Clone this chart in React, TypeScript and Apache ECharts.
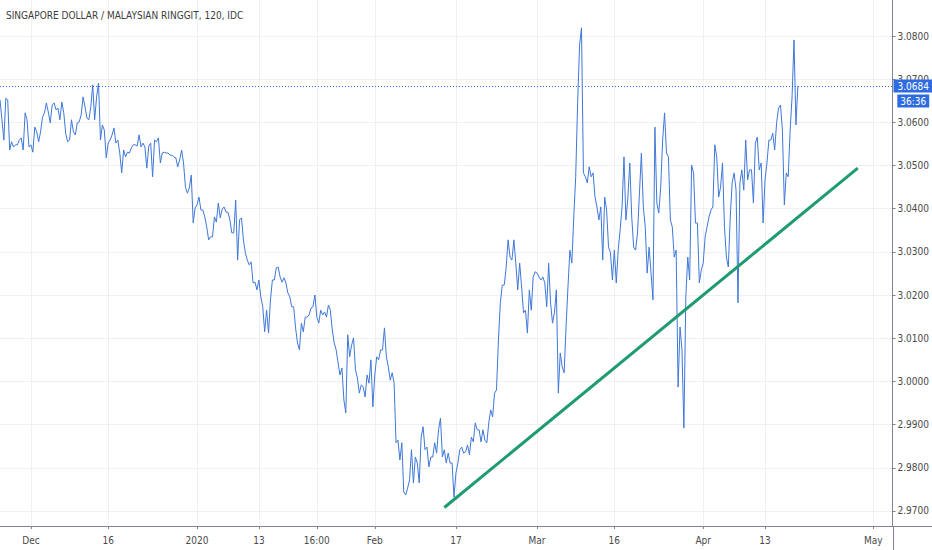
import { useEffect, useRef } from "react";
import * as echarts from "echarts";

const chartTitle = "SINGAPORE DOLLAR / MALAYSIAN RINGGIT, 120, IDC";
// category slots along the time axis (each slot ≈ a quarter of a trading day)
const slotCount = 463;
const tickIndex = [16, 56, 102, 134, 164, 194, 236, 278, 318, 364, 396, 452];
const tickLabels = ["Dec", "16", "2020", "13", "16:00", "Feb", "17", "Mar", "16", "Apr", "13", "May"];

const prices = [
  3.0652, 3.0606, 3.0559, 3.0656, 3.0652, 3.0536, 3.0555, 3.0543, 3.0548, 3.0548,
  3.0559, 3.0564, 3.0536, 3.0622, 3.0606, 3.0543, 3.0548, 3.0531, 3.0589, 3.0578,
  3.0555, 3.0578, 3.0612, 3.0622, 3.0645, 3.0624, 3.0599, 3.0640, 3.0645, 3.0629,
  3.0633, 3.0606, 3.0647, 3.0622, 3.0575, 3.0555, 3.0559, 3.0606, 3.0578, 3.0571,
  3.0599, 3.0601, 3.0617, 3.0659, 3.0636, 3.0610, 3.0606, 3.0636, 3.0687, 3.0606,
  3.0659, 3.0691, 3.0559, 3.0594, 3.0582, 3.0518, 3.0552, 3.0559, 3.0571, 3.0587,
  3.0552, 3.0559, 3.0529, 3.0483, 3.0536, 3.0520, 3.0531, 3.0529, 3.0541, 3.0548,
  3.0548, 3.0545, 3.0571, 3.0543, 3.0552, 3.0543, 3.0494, 3.0545, 3.0552, 3.0474,
  3.0559, 3.0555, 3.0564, 3.0506, 3.0529, 3.0531, 3.0529, 3.0529, 3.0524, 3.0524,
  3.0520, 3.0518, 3.0497, 3.0513, 3.0536, 3.0506, 3.0450, 3.0436, 3.0448, 3.0478,
  3.0367, 3.0402, 3.0409, 3.0427, 3.0397, 3.0397, 3.0381, 3.0358, 3.0328, 3.0335,
  3.0335, 3.0381, 3.0369, 3.0413, 3.0379, 3.0399, 3.0404, 3.0392, 3.0392, 3.0374,
  3.0344, 3.0344, 3.0420, 3.0281, 3.0374, 3.0379, 3.0328, 3.0298, 3.0281, 3.0270,
  3.0277, 3.0228, 3.0230, 3.0212, 3.0235, 3.0196, 3.0173, 3.0115, 3.0165, 3.0112,
  3.0189, 3.0235, 3.0235, 3.0263, 3.0265, 3.0242, 3.0230, 3.0240, 3.0228, 3.0205,
  3.0196, 3.0173, 3.0173, 3.0124, 3.0089, 3.0073, 3.0135, 3.0115, 3.0149, 3.0149,
  3.0154, 3.0170, 3.0173, 3.0200, 3.0149, 3.0135, 3.0165, 3.0154, 3.0161, 3.0149,
  3.0177, 3.0165, 3.0119, 3.0089, 3.0073, 3.0043, 3.0015, 3.0031, 2.9957, 2.9927,
  3.0108, 3.0057, 3.0084, 3.0101, 3.0027, 3.0008, 2.9973, 2.9992, 2.9987, 2.9964,
  3.0015, 2.9996, 3.0050, 2.9941, 3.0015, 3.0057, 3.0050, 3.0073, 3.0073, 3.0124,
  3.0057, 3.0034, 3.0003, 3.0020, 2.9996, 2.9858, 2.9864, 2.9818, 2.9858, 2.9744,
  2.9737, 2.9753, 2.9772, 2.9842, 2.9765, 2.9825, 2.9811, 2.9765, 2.9871, 2.9895,
  2.9842, 2.9848, 2.9802, 2.9825, 2.9825, 2.9858, 2.9834, 2.9888, 2.9915, 2.9825,
  2.9842, 2.9811, 2.9834, 2.9811, 2.9811, 2.9732, 2.9788, 2.9811, 2.9842, 2.9848,
  2.9834, 2.9837, 2.9853, 2.9830, 2.9871, 2.9860, 2.9904, 2.9888, 2.9888, 2.9860,
  2.9888, 2.9864, 2.9858, 2.9904, 2.9934, 2.9918, 2.9973, 2.9980, 3.0096, 3.0182,
  3.0223, 3.0223, 3.0263, 3.0328, 3.0288, 3.0281, 3.0328, 3.0274, 3.0212, 3.0274,
  3.0219, 3.0159, 3.0165, 3.0112, 3.0212, 3.0165, 3.0242, 3.0254, 3.0251, 3.0242,
  3.0235, 3.0242, 3.0228, 3.0173, 3.0274, 3.0182, 3.0135, 3.0159, 3.0212, 2.9973,
  3.0066, 3.0034, 3.0020, 3.0126, 3.0219, 3.0304, 3.0274, 3.0381, 3.0474, 3.0645,
  3.0779, 3.0819, 3.0483, 3.0474, 3.0460, 3.0497, 3.0474, 3.0483, 3.0427, 3.0404,
  3.0374, 3.0404, 3.0281, 3.0427, 3.0397, 3.0311, 3.0298, 3.0235, 3.0304, 3.0228,
  3.0304, 3.0351, 3.0404, 3.0520, 3.0374, 3.0425, 3.0506, 3.0381, 3.0311, 3.0304,
  3.0344, 3.0436, 3.0529, 3.0404, 3.0358, 3.0251, 3.0311, 3.0251, 3.0189, 3.0589,
  3.0413, 3.0390, 3.0450, 3.0559, 3.0622, 3.0529, 3.0520, 3.0374, 3.0358, 3.0288,
  3.0304, 2.9987, 3.0126, 3.0073, 2.9892, 3.0196, 3.0288, 3.0235, 3.0501, 3.0483,
  3.0367, 3.0367, 3.0228, 3.0258, 3.0274, 3.0335, 3.0358, 3.0381, 3.0397, 3.0404,
  3.0548, 3.0520, 3.0427, 3.0450, 3.0506, 3.0358, 3.0288, 3.0265, 3.0381, 3.0460,
  3.0483, 3.0443, 3.0182, 3.0460, 3.0490, 3.0443, 3.0559, 3.0467, 3.0490, 3.0490,
  3.0413, 3.0552, 3.0566, 3.0490, 3.0506, 3.0367, 3.0467, 3.0506, 3.0559, 3.0559,
  3.0575, 3.0536, 3.0599, 3.0633, 3.0640, 3.0582, 3.0409, 3.0483, 3.0474, 3.0582,
  3.0659, 3.0791, 3.0594, 3.0684,
];

const trendIndex = [230, 444];
const trendValues = [2.9708, 3.0494];

const priceMin = 2.96652;
const priceMax = 3.08834;
const countdown = "36:36";

const FONT = "'Liberation Sans Narrow', 'DejaVu Sans Condensed', 'Liberation Sans', sans-serif";
const AXIS_COLOR = "#7f8490";
const GRID_COLOR = "#eef0f4";
const LABEL_COLOR = "#4a4a4a";
const LINE_BLUE = "#3f78d8";
const TAG_BLUE = "#2f6be0";

export default function App() {
  const ref = useRef<HTMLDivElement>(null);

  useEffect(() => {
    if (!ref.current) return;
    const chart = echarts.init(ref.current, null, { renderer: "svg" });
    const categories = Array.from({ length: slotCount }, (_, i) => String(i));
    const labelAt = new Map<number, string>(tickIndex.map((idx, k) => [idx, tickLabels[k]]));
    const isTick = (i: number) => labelAt.has(i);
    const last = prices[prices.length - 1];

    chart.setOption({
      animation: false,
      backgroundColor: "#ffffff",
      title: {
        text: chartTitle,
        left: 6,
        top: 10,
        padding: 0,
        textStyle: { fontSize: 10, fontWeight: "normal", color: "#3c3c3c", fontFamily: FONT },
      },
      grid: { left: 0, right: 39, top: 0, bottom: 24, containLabel: false },
      xAxis: {
        type: "category",
        data: categories,
        boundaryGap: false,
        axisLine: { show: true, lineStyle: { color: AXIS_COLOR, width: 1 } },
        axisTick: { show: true, interval: (i: number) => isTick(i), length: 3, lineStyle: { color: AXIS_COLOR } },
        axisLabel: {
          interval: (i: number) => isTick(i),
          formatter: (_v: string, i: number) => labelAt.get(i) ?? "",
          color: LABEL_COLOR,
          fontSize: 10,
          fontFamily: FONT,
          margin: 9,
        },
        splitLine: { show: true, interval: (i: number) => isTick(i), lineStyle: { color: GRID_COLOR, width: 1 } },
      },
      yAxis: {
        type: "value",
        position: "right",
        min: priceMin,
        max: priceMax,
        splitNumber: 12,
        scale: true,
        axisLine: { show: true, lineStyle: { color: AXIS_COLOR, width: 1 } },
        axisTick: { show: true, length: 3, lineStyle: { color: AXIS_COLOR } },
        axisLabel: {
          showMinLabel: false,
          showMaxLabel: false,
          formatter: (v: number) => v.toFixed(4),
          color: LABEL_COLOR,
          fontSize: 10,
          fontFamily: FONT,
          margin: 5,
        },
        splitLine: { show: true, showMinLine: false, showMaxLine: false, lineStyle: { color: GRID_COLOR, width: 1 } },
      },
      graphic: [
        { type: "line", silent: true, shape: { x1: 893.5, y1: 526, x2: 893.5, y2: 550 }, style: { stroke: AXIS_COLOR, lineWidth: 1 } },
        { type: "line", silent: true, shape: { x1: 893, y1: 526.5, x2: 932, y2: 526.5 }, style: { stroke: AXIS_COLOR, lineWidth: 1 } },
      ],
      series: [
        {
          name: "SGDMYR",
          type: "line",
          data: prices,
          showSymbol: false,
          symbol: "none",
          lineStyle: { color: LINE_BLUE, width: 1 },
          itemStyle: { color: LINE_BLUE },
          z: 3,
          markLine: {
            silent: true,
            precision: 4,
            symbol: ["none", "none"],
            data: [{ yAxis: last }],
            lineStyle: { color: "#2f6be0", type: [1, 2], width: 1 },
            label: {
              show: true,
              position: "end",
              distance: 1,
              formatter: () => `{s| }\n{a|${last.toFixed(4)}}\n{b|${countdown}}`,
              rich: {
                s: { lineHeight: 15, fontSize: 10, color: "transparent" },
                a: {
                  lineHeight: 15,
                  fontSize: 10,
                  fontFamily: FONT,
                  color: "#ffffff",
                  backgroundColor: TAG_BLUE,
                  padding: [2, 4, 1, 4],
                },
                b: {
                  lineHeight: 15,
                  fontSize: 10,
                  fontFamily: FONT,
                  color: "#ffffff",
                  backgroundColor: TAG_BLUE,
                  padding: [2, 3, 1, 3],
                  align: "center",
                },
              },
            },
          },
        },
        {
          name: "trend",
          type: "line",
          data: trendIndex.map((idx, k) => [idx, trendValues[k]]),
          showSymbol: false,
          symbol: "none",
          lineStyle: { color: "#1f9b70", width: 3 },
          itemStyle: { color: "#1f9b70" },
          z: 4,
        },
      ],
    });

    return () => chart.dispose();
  }, []);

  return (
    <div
      ref={ref}
      style={{ position: "fixed", left: 0, top: 0, width: 932, height: 550, background: "#fff" }}
    />
  );
}
